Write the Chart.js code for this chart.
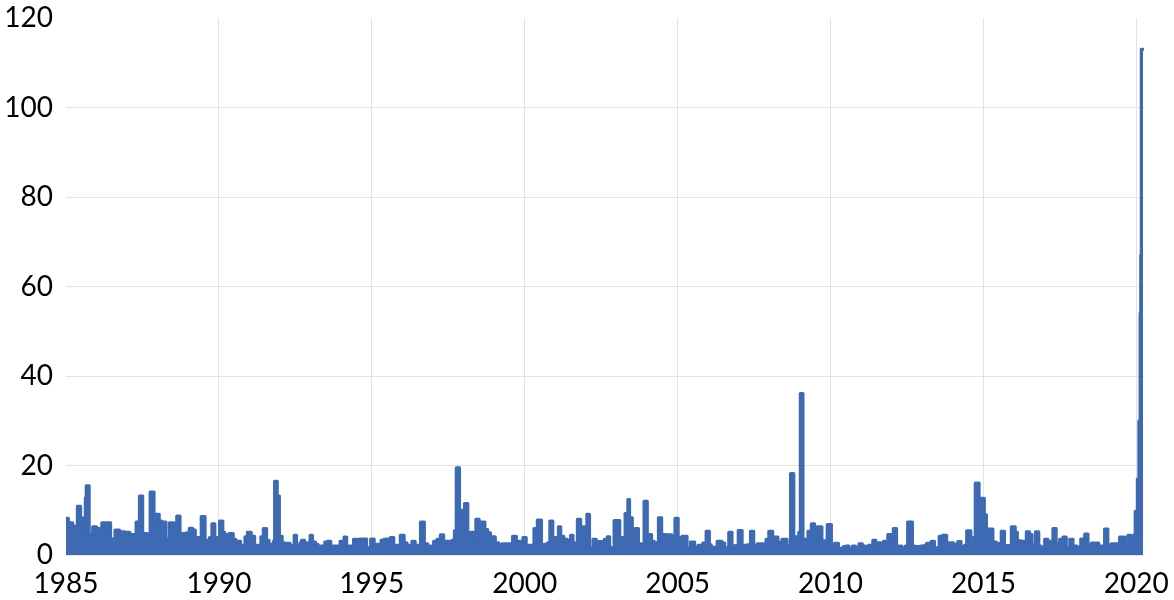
<!DOCTYPE html>
<html>
<head>
<meta charset="utf-8">
<script src="https://cdn.jsdelivr.net/npm/chart.js@4"></script>
<style>
  html, body { margin: 0; padding: 0; background: #fff; }
  #wrap { width: 1174px; height: 600px; }
</style>
</head>
<body>
<div id="wrap"><canvas id="c" width="1174" height="600"></canvas></div>
<script>
// Step points: each value holds from its date until the next date (decimal years)
const dates = [
  1985.00,1985.08,1985.13,1985.22,1985.33,1985.37,1985.48,1985.55,1985.60,1985.63,1985.66,1985.76,1985.87,
  1986.00,1986.06,1986.17,1986.31,1986.35,1986.46,1986.60,1986.75,1986.79,1986.93,
  1987.09,1987.26,1987.29,1987.40,1987.51,1987.55,1987.66,1987.75,1987.88,1987.94,
  1988.05,1988.13,1988.27,1988.38,1988.53,1988.62,1988.73,1988.86,1988.93,
  1989.03,1989.14,1989.23,1989.36,1989.42,1989.55,1989.69,1989.77,1989.87,
  1990.02,1990.13,1990.19,1990.33,1990.47,1990.55,1990.60,1990.71,1990.85,1990.93,
  1991.06,1991.17,1991.24,1991.37,1991.45,1991.56,1991.64,1991.78,1991.82,1991.91,1991.98,
  1992.07,1992.15,1992.22,1992.33,1992.40,1992.46,1992.54,1992.65,1992.70,1992.80,1992.91,1992.98,
  1993.06,1993.16,1993.24,1993.46,1993.55,1993.66,1993.96,
  1994.09,1994.18,1994.40,1994.51,1994.59,1994.72,1994.83,1994.96,
  1995.08,1995.15,1995.30,1995.39,1995.48,1995.61,1995.72,1995.80,1995.93,
  1996.06,1996.15,1996.24,1996.31,1996.42,1996.53,1996.59,1996.72,1996.75,1996.83,1996.91,
  1997.02,1997.13,1997.24,1997.35,1997.55,1997.62,1997.70,1997.76,1997.87,1997.93,
  1998.03,1998.14,1998.22,1998.33,1998.40,1998.51,1998.57,1998.70,1998.79,1998.88,1998.93,
  1999.04,1999.15,1999.26,1999.60,1999.73,1999.80,1999.88,1999.94,
  2000.05,2000.12,2000.25,2000.30,2000.41,2000.55,2000.63,2000.74,2000.82,2000.92,
  2001.03,2001.10,2001.18,2001.28,2001.39,2001.50,2001.58,2001.72,2001.83,2001.88,2001.97,
  2002.03,2002.12,2002.23,2002.34,2002.41,2002.54,2002.60,2002.70,2002.78,2002.92,
  2003.11,2003.19,2003.28,2003.37,2003.43,2003.52,2003.61,2003.72,2003.82,2003.90,
  2004.01,2004.15,2004.23,2004.37,2004.48,2004.61,2004.81,2004.91,
  2005.02,2005.14,2005.31,2005.42,2005.56,2005.67,2005.82,2005.93,
  2006.04,2006.10,2006.29,2006.45,2006.54,2006.67,2006.78,2006.87,2006.98,
  2007.11,2007.27,2007.38,2007.49,2007.60,2007.89,2007.98,
  2008.11,2008.17,2008.28,2008.41,2008.58,2008.69,2008.80,2008.90,2008.96,
  2009.01,2009.10,2009.15,2009.26,2009.37,2009.48,2009.56,2009.72,2009.83,2009.89,
  2010.03,2010.13,2010.26,2010.42,2010.50,2010.60,2010.71,2010.82,2010.93,
  2011.04,2011.15,2011.24,2011.32,2011.38,2011.48,2011.54,2011.65,2011.73,2011.80,2011.87,2011.98,
  2012.05,2012.16,2012.24,2012.33,2012.44,2012.52,2012.68,2012.76,2012.93,
  2013.07,2013.14,2013.29,2013.40,2013.55,2013.66,2013.80,2013.87,
  2014.02,2014.16,2014.27,2014.38,2014.45,2014.59,2014.67,2014.73,2014.86,2014.92,
  2015.03,2015.10,2015.16,2015.31,2015.42,2015.50,2015.58,2015.69,2015.91,
  2016.04,2016.11,2016.24,2016.40,2016.51,2016.59,2016.70,2016.81,2016.89,
  2017.00,2017.11,2017.19,2017.27,2017.38,2017.49,2017.60,2017.71,2017.82,2017.93,
  2018.06,2018.18,2018.31,2018.42,2018.53,2018.77,2018.96,
  2019.07,2019.18,2019.45,2019.62,2019.72,2019.81,2019.89,2019.96,
  2020.03,2020.08,2020.12,2020.14,2020.16,2020.22
];
const values = [
  8.2,1.5,7.2,6.5,0.8,10.9,8.3,0.8,3.0,12.8,15.5,4.6,6.3,
  5.0,5.9,7.2,5.7,7.2,3.6,5.6,1.0,5.2,5.1,
  4.6,3.6,7.4,13.2,4.2,4.8,4.0,14.1,5.7,9.1,
  7.6,7.4,3.6,7.2,3.6,8.7,4.8,3.6,5.0,
  6.0,5.6,3.9,0.9,8.6,3.3,3.9,7.0,3.9,
  7.6,5.1,4.6,4.8,3.5,2.0,3.1,2.2,4.1,5.1,
  4.2,2.0,2.2,4.1,5.9,3.3,2.4,3.1,16.5,13.2,4.2,
  2.75,1.9,2.6,1.6,2.2,4.4,2.0,2.75,3.3,2.75,1.6,4.4,
  2.9,2.4,2.0,2.9,3.1,2.0,3.1,
  4.0,2.0,3.5,1.6,3.6,3.6,1.6,3.6,
  1.9,2.4,3.3,3.5,3.6,3.9,1.9,2.2,4.4,
  2.75,2.2,2.0,3.1,2.2,1.6,7.4,1.6,2.5,1.6,2.0,
  3.1,3.5,4.5,3.1,1.9,3.3,5.4,19.5,8.7,10.0,
  11.5,4.4,5.1,3.1,8.0,4.2,7.4,5.7,5.0,3.9,4.1,
  2.75,2.4,2.5,4.2,2.75,3.1,2.0,3.9,
  2.0,2.2,1.9,5.9,7.8,1.9,2.4,2.75,7.6,3.9,
  3.6,6.3,4.2,3.5,3.3,4.4,2.75,8.0,3.9,6.3,3.5,
  9.1,1.6,3.5,2.6,3.0,2.75,3.5,4.1,1.6,7.7,
  3.6,3.9,9.3,12.4,8.3,2.4,5.9,2.5,2.0,12.0,
  4.6,3.1,2.75,8.3,4.6,4.5,2.75,8.2,
  3.9,4.2,1.6,2.9,1.8,2.2,2.7,5.3,
  2.3,1.75,3.1,2.7,1.6,5.1,1.6,2.1,5.5,
  2.2,2.3,5.3,2.2,2.5,3.5,5.3,
  3.8,4.0,2.9,3.5,2.1,18.2,4.1,2.7,5.1,
  36.1,3.6,3.5,5.3,7.0,2.3,6.3,3.2,2.3,6.8,
  2.0,2.6,1.5,1.9,2.0,1.4,2.0,1.6,2.5,
  2.0,1.4,2.2,1.2,3.3,1.6,2.75,1.6,3.1,1.8,4.6,2.2,
  5.9,1.6,2.0,1.5,2.0,7.4,2.0,1.9,2.0,
  2.2,2.6,3.1,1.6,4.2,4.4,1.3,2.75,
  2.4,3.0,1.9,2.2,5.4,2.0,3.9,16.1,10.5,12.7,
  9.0,2.75,5.8,2.9,2.6,2.1,5.3,2.1,6.3,
  5.1,3.2,3.1,5.2,4.6,2.3,5.2,2.0,1.6,
  3.5,2.0,3.1,5.9,2.5,3.5,4.0,1.6,3.5,2.0,
  1.8,3.6,4.7,2.3,2.7,2.0,5.8,
  2.2,2.5,4.0,2.2,4.4,2.6,4.4,9.8,
  17.0,30.0,54.0,67.0,113.0,113.0
];
const yearTicks = [1985, 1990, 1995, 2000, 2005, 2010, 2015, 2020];
const valueTicks = [0, 20, 40, 60, 80, 100, 120];

const lineColor = '#3D6AB2';
const gridColor = '#e3e3e3';
const tickFont = { family: 'Lato', size: 28 };

new Chart(document.getElementById('c'), {
  type: 'line',
  data: {
    datasets: [{
      data: dates.map((d, i) => ({ x: d, y: values[i] })),
      stepped: true,
      fill: 'origin',
      borderColor: lineColor,
      backgroundColor: lineColor,
      borderWidth: 3,
      borderJoinStyle: 'round',
      borderCapStyle: 'round',
      pointRadius: 0
    }]
  },
  options: {
    responsive: false,
    animation: false,
    devicePixelRatio: 1,
    layout: { padding: { left: 0, right: 30, top: 18, bottom: 0 } },
    plugins: { legend: { display: false }, tooltip: { enabled: false } },
    scales: {
      x: {
        type: 'linear',
        min: 1985,
        max: 2020.25,
        afterBuildTicks: s => { s.ticks = yearTicks.map(v => ({ value: v })); },
        afterFit: s => { s.height = 45; s.paddingLeft = 0; s.paddingRight = 0; },
        border: { display: false },
        grid: {
          drawTicks: false,
          color: c => (c.tick && c.tick.value === 1985) ? 'rgba(0,0,0,0)' : gridColor,
          lineWidth: 1
        },
        ticks: {
          color: '#000',
          font: tickFont,
          padding: 12,
          maxRotation: 0,
          autoSkip: false,
          callback: v => String(v)
        }
      },
      y: {
        min: 0,
        max: 120,
        afterBuildTicks: s => { s.ticks = valueTicks.map(v => ({ value: v })); },
        afterFit: s => { s.width = 66; s.paddingTop = 0; s.paddingBottom = 0; },
        border: { display: false },
        grid: {
          drawTicks: false,
          color: c => (c.tick && c.tick.value === 120) ? 'rgba(0,0,0,0)' : gridColor,
          lineWidth: 1
        },
        ticks: {
          color: '#000',
          font: tickFont,
          padding: 13,
          callback: v => String(v)
        }
      }
    }
  }
});
</script>
</body>
</html>
